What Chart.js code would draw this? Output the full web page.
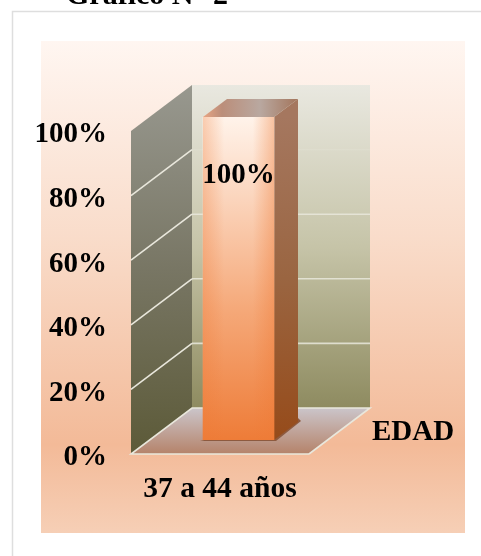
<!DOCTYPE html>
<html>
<head>
<meta charset="utf-8">
<script src="https://cdn.jsdelivr.net/npm/chart.js@4"></script>
<style>
  html, body { margin: 0; padding: 0; background: white; overflow: hidden; }
  canvas { display: block; }
</style>
</head>
<body>
<canvas id="chart" width="481" height="556"></canvas>
<script>
const categories = ['37 a 44 años'];
const seriesName = 'EDAD';
const seriesValues = [100];
const yTicks = [0, 20, 40, 60, 80, 100];
const chartTitle = 'Gráfico N° 2';

const FONT = '"Liberation Serif", serif';
// depth of the 3d box, and how far into it the bar sits
const wallDx = 61, wallDy = -46;
const barDx = 18.5, barDy = -14;
const barDepthX = 24, barDepthY = -18;

function vGrad(ctx, y0, y1, stops) {
  const g = ctx.createLinearGradient(0, y0, 0, y1);
  stops.forEach(s => g.addColorStop(s[0], s[1]));
  return g;
}

function poly(ctx, pts, fill) {
  ctx.beginPath();
  pts.forEach((p, i) => i ? ctx.lineTo(p[0], p[1]) : ctx.moveTo(p[0], p[1]));
  ctx.closePath();
  ctx.fillStyle = fill;
  ctx.fill();
}

const box3d = {
  id: 'box3d',
  beforeDraw(chart) {
    const ctx = chart.ctx;
    const { left, right, top, bottom } = chart.chartArea;
    const y = chart.scales.y;

    ctx.save();
    // frame and page background
    ctx.strokeStyle = '#dedede';
    ctx.lineWidth = 1.5;
    ctx.beginPath();
    ctx.moveTo(12.5, 556);
    ctx.lineTo(12.5, 11.5);
    ctx.lineTo(481, 11.5);
    ctx.stroke();

    ctx.fillStyle = vGrad(ctx, 41, 533, [[0, '#fff6f1'], [0.4, '#f9dcca'], [0.82, '#f3ba98'], [1, '#f6cfb6']]);
    ctx.fillRect(41, 41, 424, 492);

    // back wall
    poly(ctx, [[left + wallDx, top + wallDy], [right + wallDx, top + wallDy], [right + wallDx, bottom + wallDy], [left + wallDx, bottom + wallDy]],
      vGrad(ctx, top + wallDy, bottom + wallDy, [[0, '#e9e8e0'], [0.5, '#c6c4a8'], [1, '#8e8b60']]));
    // left wall
    poly(ctx, [[left, top], [left + wallDx, top + wallDy], [left + wallDx, bottom + wallDy], [left, bottom]],
      vGrad(ctx, top + wallDy, bottom, [[0, '#98988f'], [0.5, '#787664'], [1, '#5c5a38']]));
    // floor
    poly(ctx, [[left, bottom], [left + wallDx, bottom + wallDy], [right + wallDx, bottom + wallDy], [right, bottom]],
      vGrad(ctx, bottom + wallDy, bottom, [[0, '#cbc5ca'], [1, '#b5836a']]));

    // grid lines across both walls, the upper ones fade out on the back wall
    ctx.lineWidth = 1.6;
    yTicks.forEach(v => {
      const py = y.getPixelForValue(v);
      ctx.strokeStyle = '#e9e7dc';
      ctx.beginPath();
      if (v === 0) {
        ctx.moveTo(right, py);
        ctx.lineTo(left, py);
        ctx.lineTo(left + wallDx, py + wallDy);
        ctx.lineTo(right + wallDx, py + wallDy);
        ctx.lineTo(right, py);
        ctx.stroke();
      } else if (v < 100) {
        ctx.moveTo(left, py);
        ctx.lineTo(left + wallDx, py + wallDy);
        ctx.stroke();
        ctx.globalAlpha = v > 70 ? 0.25 : 0.85;
        ctx.beginPath();
        ctx.moveTo(left + wallDx, py + wallDy);
        ctx.lineTo(right + wallDx, py + wallDy);
        ctx.stroke();
        ctx.globalAlpha = 1;
      }
    });
    ctx.restore();
  },
  beforeDatasetsDraw(chart) {
    const ctx = chart.ctx;
    const bar = chart.getDatasetMeta(0).data[0];
    const x0 = bar.x - bar.width / 2 + barDx, x1 = bar.x + bar.width / 2 + barDx;
    const yTop = bar.y + barDy, yBase = bar.base + barDy;

    ctx.save();
    // shadow on the floor
    poly(ctx, [[x0 - 3, yBase + 1], [x1 + 2, yBase + 1], [x1 + barDepthX + 3, yBase + barDepthY - 1], [x1 + barDepthX, yBase + barDepthY - 4]], '#8d5a3f');
    // right side
    poly(ctx, [[x1, yTop], [x1 + barDepthX, yTop + barDepthY], [x1 + barDepthX, yBase + barDepthY], [x1, yBase]],
      vGrad(ctx, yTop, yBase, [[0, '#a5775f'], [0.5, '#9a6541'], [1, '#964b1a']]));
    // top
    const g = ctx.createLinearGradient(x0, 0, x1 + barDepthX, 0);
    g.addColorStop(0, '#e8a583');
    g.addColorStop(0.2, '#bb8e7a');
    g.addColorStop(0.6, '#b9a8a0');
    g.addColorStop(1, '#a3755c');
    poly(ctx, [[x0, yTop], [x0 + barDepthX, yTop + barDepthY], [x1 + barDepthX, yTop + barDepthY], [x1, yTop]], g);
    ctx.restore();

    // the front face is the library's own bar, moved into the box
    ctx.save();
    ctx.translate(barDx, barDy);
  },
  afterDatasetsDraw(chart) {
    const ctx = chart.ctx;
    const bar = chart.getDatasetMeta(0).data[0];
    const x0 = bar.x - bar.width / 2, x1 = bar.x + bar.width / 2;
    // darker sides on the front face
    const g = ctx.createLinearGradient(x0, 0, x1, 0);
    g.addColorStop(0, 'rgba(238,122,53,0.32)');
    g.addColorStop(0.3, 'rgba(238,122,53,0)');
    g.addColorStop(0.7, 'rgba(238,122,53,0)');
    g.addColorStop(1, 'rgba(238,122,53,0.4)');
    ctx.fillStyle = g;
    ctx.fillRect(x0, bar.y, bar.width, bar.base - bar.y);
    ctx.restore();

    ctx.save();
    ctx.fillStyle = '#000';
    ctx.font = 'bold 29px ' + FONT;
    ctx.textBaseline = 'alphabetic';
    // value label
    ctx.textAlign = 'center';
    ctx.fillText(seriesValues[0] + '%', bar.x + barDx, 183);
    // series name
    ctx.textAlign = 'left';
    ctx.fillText(chart.data.datasets[0].label, 372, 440);
    // title, cut by the top of the page
    ctx.font = 'bold 30px ' + FONT;
    ctx.fillText(chartTitle, 66, 4);
    ctx.restore();
  }
};

new Chart(document.getElementById('chart'), {
  type: 'bar',
  data: {
    labels: categories,
    datasets: [{
      label: seriesName,
      data: seriesValues,
      barThickness: 71,
      backgroundColor(c) {
        const area = c.chart.chartArea;
        if (!area) return '#f39a62';
        return vGrad(c.chart.ctx, area.top, area.bottom, [[0, '#fff3ea'], [0.25, '#fbd5bd'], [0.6, '#f5a878'], [1, '#ee7c38']]);
      }
    }]
  },
  options: {
    responsive: false,
    animation: false,
    layout: { padding: { top: 131, right: 172 } },
    plugins: { legend: { display: false }, tooltip: { enabled: false }, title: { display: false } },
    scales: {
      x: {
        grid: { display: false, drawTicks: false },
        border: { display: false },
        afterFit(s) { s.height = 102; },
        ticks: { color: '#000', padding: 18, maxRotation: 0, font: { family: FONT, size: 29.5, weight: 'bold' } }
      },
      y: {
        min: 0,
        max: 100,
        grid: { display: false, drawTicks: false },
        border: { display: false },
        afterFit(s) { s.width = 131; },
        afterBuildTicks(s) { s.ticks = yTicks.map(v => ({ value: v })); },
        ticks: { color: '#000', padding: 24, labelOffset: 4, font: { family: FONT, size: 29, weight: 'bold' }, callback: v => v + '%' }
      }
    }
  },
  plugins: [box3d]
});
</script>
</body>
</html>
